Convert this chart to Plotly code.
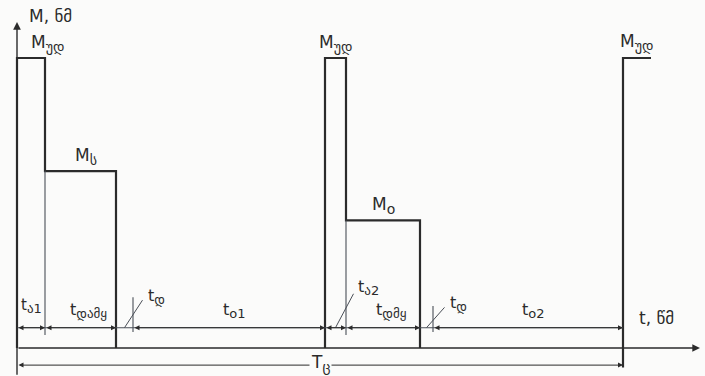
import numpy as np
import plotly.graph_objects as go

# Load cycle of a hoist drive: phases, their durations (s) and the torque in each phase
phase_names = ["ა1", "დამყ", "დ", "o1", "ა2", "დმყ", "დ", "o2"]
phase_durations = [2.8, 7.1, 1.7, 19.2, 2.1, 7.4, 1.3, 19.0]
phase_torque = [100, 61, 0, 0, 100, 44, 0, 0]
level_names = ["უდ", "ს", None, None, "უდ", "o", None, None]
cycle_name = "ც"
axis_labels = ["M, ნმ", "t, წმ"]

INK = "#2b2b2b"
THIN = "#4a4f57"
BG = "#fbfbfa"
FONT = "DejaVu Sans"

edges = np.concatenate([[0.0], np.cumsum(phase_durations)])
T = edges[-1]

# rows for dimension lines (in torque units)
dim_row = 7.0
cycle_row = -5.9
label_row = 13.0

fig = go.Figure()


def sub(base, idx, size=13):
    return '%s<sub><span style="font-size:%dpx">%s</span></sub>' % (base, size, idx)


# thick torque diagram built from the phase table
xs, ys = [], []
i = 0
n = len(phase_torque)
while i < n:
    if phase_torque[i] > 0:
        xs += [edges[i], edges[i]]
        ys += [0, phase_torque[i]]
        while i < n and phase_torque[i] > 0:
            xs += [edges[i + 1]]
            ys += [phase_torque[i]]
            if i + 1 < n and phase_torque[i + 1] > 0:
                xs += [edges[i + 1]]
                ys += [phase_torque[i + 1]]
            i += 1
        xs += [edges[i]]
        ys += [0]
        xs.append(None)
        ys.append(None)
    else:
        i += 1
# start of the next cycle
xs += [T, T, T + phase_durations[0]]
ys += [cycle_row - 0.8, phase_torque[0], phase_torque[0]]

fig.add_trace(go.Scatter(x=xs, y=ys, mode="lines",
                         line=dict(color=INK, width=2.2),
                         hoverinfo="skip", showlegend=False))

# thin extension lines and braking-end ticks
ex, ey = [], []
for k in range(n):
    if phase_torque[k] > 0 and k + 1 < n and phase_torque[k + 1] > 0:
        ex += [edges[k + 1], edges[k + 1], None]
        ey += [phase_torque[k + 1], dim_row - 2.5, None]
    if phase_names[k] == "დ":
        ex += [edges[k + 1], edges[k + 1], None]
        ey += [dim_row - 1.5, dim_row + 10.5 - 3 * (k > 3), None]
# dimension row line
ex += [0, T, None]
ey += [dim_row, dim_row, None]
fig.add_trace(go.Scatter(x=ex, y=ey, mode="lines",
                         line=dict(color=THIN, width=1.1),
                         hoverinfo="skip", showlegend=False))


def arrow(x0, y0, x1, y1, side="end", width=1.2, size=1.1):
    fig.add_annotation(x=x1, y=y1, ax=x0, ay=y0, xref="x", yref="y",
                       axref="x", ayref="y", text="", showarrow=True,
                       arrowhead=2, arrowside=side, arrowsize=size,
                       arrowwidth=width, arrowcolor=INK, standoff=0,
                       startstandoff=0)


def label(x, y, txt, size=16, anchor="center", bg=None):
    fig.add_annotation(x=x, y=y, xref="x", yref="y", text=txt,
                       showarrow=False, xanchor=anchor, yanchor="middle",
                       font=dict(family=FONT, size=size, color=INK),
                       bgcolor=bg, borderpad=1)


# axes
y_top = 112.4
x_right = 68.3
arrow(0, -9.7, 0, y_top, width=1.4)
arrow(0, 0, x_right, 0, width=1.4)
label(1.0, 114.5, axis_labels[0], size=17, anchor="left")
label(62.0, 10.3, axis_labels[1], size=17, anchor="left")

# dimension arrows per phase (braking gaps are shown between neighbours)
for k in range(n):
    if phase_names[k] == "დ":
        continue
    arrow(edges[k], dim_row, edges[k + 1], dim_row, side="end+start",
          width=1.0, size=1.0)

# duration labels
for k in range(n):
    name = phase_names[k]
    mid = 0.5 * (edges[k] + edges[k + 1])
    txt = sub("t", name)
    if name == "დ":
        lx, ly = mid + 1.8, dim_row + (9.5 if k < 4 else 7.0)
        fig.add_trace(go.Scatter(x=[mid, lx], y=[dim_row, ly], mode="lines",
                                 line=dict(color=THIN, width=1),
                                 hoverinfo="skip", showlegend=False))
        label(lx + 0.3, ly + 1.2, txt, anchor="left")
    elif k == 4:
        lx, ly = mid + 1.8, dim_row + 11.7
        fig.add_trace(go.Scatter(x=[mid, lx], y=[dim_row, ly], mode="lines",
                                 line=dict(color=THIN, width=1),
                                 hoverinfo="skip", showlegend=False))
        label(lx + 0.2, ly + 2.0, txt, anchor="left")
    elif k == 0:
        label(mid, label_row + 1.5, txt, size=15)
    else:
        label(mid + (0.8 if k in (1, 5) else 0.5), label_row, txt)

# torque level labels
for k in range(n):
    if level_names[k] is None:
        continue
    mid = 0.5 * (edges[k] + edges[k + 1])
    shift = 1.6 if k == 0 else (0.5 if k == 1 else 0.0)
    label(mid + shift, phase_torque[k] + 5.0,
          sub("M", level_names[k], 14), size=17)
label(T + 1.3, phase_torque[0] + 5.5, sub("M", level_names[0], 14), size=17)

# cycle time
arrow(0, cycle_row, T, cycle_row, side="end+start", width=1.0, size=1.0)
label(T / 2, cycle_row + 0.6, sub("T", cycle_name, 14), size=17, bg=BG)

fig.update_xaxes(range=[-1.7, 68.8], visible=False, fixedrange=True)
fig.update_yaxes(range=[-9.655, 120.0], visible=False, fixedrange=True)
fig.update_layout(width=705, height=376, margin=dict(l=0, r=0, t=0, b=0),
                  paper_bgcolor=BG, plot_bgcolor=BG)

fig.write_html("out.html")
